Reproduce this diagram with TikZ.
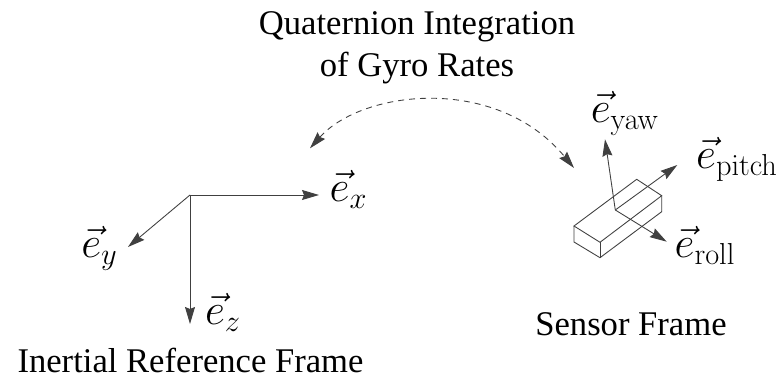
\documentclass[tikz,border=0pt]{standalone}
\usepackage[no-math]{fontspec}
\usepackage{amssymb,amsmath}
\usetikzlibrary{arrows.meta}
\newfontfamily\captionfont{Liberation Serif}
\tikzset{
  tip/.tip={Stealth[length=0.34cm,width=0.2cm,inset=0.04cm]},
  axis/.style={draw=black!75,line width=0.5pt,-tip},
  boxedge/.style={draw=black!75,line width=0.5pt},
  caption/.style={inner sep=0pt,align=center,font=\captionfont\fontsize{19.7}{23.8}\selectfont},
  axislabel/.style={inner sep=0pt,anchor=base,font=\fontsize{24.5}{28}\selectfont}
}
\begin{document}
\begin{tikzpicture}[x={(0.02cm,0cm)}, y={(0cm,-0.02cm)}]
  \useasboundingbox (0,0) rectangle (784,377);
  % Nodes
  \node[caption] (Title) at (417,48) {Quaternion Integration\\of Gyro Rates};
  \node[caption] (Inertial) at (190.5,360) {Inertial Reference Frame};
  \node[caption] (Sensor) at (631,324.5) {Sensor Frame};

  \node[axislabel] (Ex) at (348.5,202) {$\vec{e}_x$};
  \node[axislabel] (Ey) at (99.5,258) {$\vec{e}_y$};
  \node[axislabel] (Ez) at (223,325) {$\vec{e}_z$};
  \node[axislabel] (Eyaw) at (625,123) {$\vec{e}_{\mathrm{yaw}}$};
  \node[axislabel] (Epitch) at (737,169) {$\vec{e}_{\mathrm{pitch}}$};
  \node[axislabel] (Eroll) at (705,258) {$\vec{e}_{\mathrm{roll}}$};

  % Corners and tips
  \coordinate (Origin) at (190,195);
  \coordinate (TipX) at (319,195);
  \coordinate (TipY) at (128,247);
  \coordinate (TipZ) at (190,324);

  \coordinate (Center) at (615.3,210);
  \coordinate (TipYaw) at (605,139.3);
  \coordinate (TipPitch) at (677.3,165);
  \coordinate (TipRoll) at (666.7,241.7);

  \coordinate (TopA) at (574,226);
  \coordinate (TopB) at (600,242.3);
  \coordinate (TopC) at (661.7,195.7);
  \coordinate (TopD) at (636.7,179.3);
  \coordinate (LowA) at (574,242);
  \coordinate (LowB) at (600,257.7);
  \coordinate (LowC) at (661.7,211.7);

  \coordinate (SwapA) at (310,148.3);
  \coordinate (SwapB) at (574,168);

  % Edges
  \draw[axis] (Origin) -- (TipX);
  \draw[axis] (Origin) -- (TipY);
  \draw[axis] (Origin) -- (TipZ);

  \draw[boxedge] (TopA) -- (TopB) -- (TopC) -- (TopD) -- cycle;
  \draw[boxedge] (TopA) -- (LowA) -- (LowB) -- (LowC) -- (TopC);
  \draw[boxedge] (TopB) -- (LowB);

  \draw[axis] (Center) -- (TipYaw);
  \draw[axis] (Center) -- (TipPitch);
  \draw[axis] (Center) -- (TipRoll);

  % Rotation
  \draw[axis,tip-tip,dash pattern=on 0.12cm off 0.1cm] (SwapA) .. controls (362,90) and (496,74) .. (SwapB);
\end{tikzpicture}
\end{document}
